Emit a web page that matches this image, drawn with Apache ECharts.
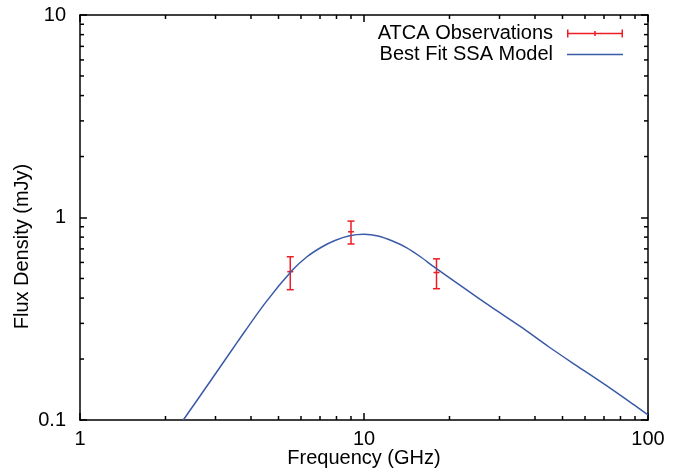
<!DOCTYPE html>
<html>
<head>
<meta charset="utf-8">
<script src="https://cdn.jsdelivr.net/npm/echarts@6/dist/echarts.min.js"></script>
<style>
  html, body { margin: 0; padding: 0; background: #fff; }
  #main { width: 685px; height: 470px; }
</style>
</head>
<body>
<div id="main"></div>
<script>
// observations (GHz, mJy, 1-sigma)
var obsFreq = [5.5, 9.0, 18.0];
var obsFlux = [0.54, 0.85, 0.535];
var obsErr = [0.10, 0.11, 0.09];

// best fit SSA model
var modelFreq = [2.31, 2.9, 3.6, 4.5, 5.6, 6.3, 7.1, 7.9, 8.9, 10, 11.2, 12.6, 14.1, 15.8, 17.8, 22.4, 28.2, 35.5, 44.7, 56.2, 70.8, 89.1, 100];
var modelFlux = [0.100, 0.158, 0.245, 0.38, 0.55, 0.64, 0.715, 0.77, 0.812, 0.826, 0.81, 0.765, 0.71, 0.64, 0.565, 0.45, 0.36, 0.29, 0.23, 0.185, 0.149, 0.119, 0.106];

// minor tick positions
var xMinor = [2, 3, 4, 5, 6, 7, 8, 9, 20, 30, 40, 50, 60, 70, 80, 90];
var yMinor = [0.2, 0.3, 0.4, 0.5, 0.6, 0.7, 0.8, 0.9, 2, 3, 4, 5, 6, 7, 8, 9];

var RED = '#ee1c25';
var BLUE = '#3a5aa8';
var FONT = '"Liberation Sans", Arial, Helvetica, sans-serif';

var chart = echarts.init(document.getElementById('main'));

var lineStyle = { color: '#000', width: 1.5 };

function baseAxis(type, pos, min, max, labels) {
    return {
        type: 'log',
        logBase: 10,
        position: pos,
        min: min,
        max: max,
        axisLine: { show: true, onZero: false, lineStyle: lineStyle },
        axisTick: { show: true, inside: true, length: 7, lineStyle: lineStyle },
        axisLabel: {
            show: labels,
            color: '#000',
            fontSize: 20,
            fontFamily: FONT,
            margin: type === 'x' ? 9 : 14,
            formatter: function (v) { return String(+v.toPrecision(3)); }
        },
        splitLine: { show: false },
        minorTick: { show: false }
    };
}

var xBottom = baseAxis('x', 'bottom', 1, 100, true);
xBottom.name = 'Frequency (GHz)';
xBottom.nameLocation = 'middle';
xBottom.nameGap = 28;
xBottom.nameMoveOverlap = false;
xBottom.nameTextStyle = { color: '#000', fontSize: 20, fontFamily: FONT };

var yLeft = baseAxis('y', 'left', 0.1, 10, true);
yLeft.name = 'Flux Density (mJy)';
yLeft.nameLocation = 'middle';
yLeft.nameGap = 48;
yLeft.nameMoveOverlap = false;
yLeft.nameTextStyle = { color: '#000', fontSize: 20, fontFamily: FONT, padding: [0, 58, 0, 0] };

var obsData = obsFreq.map(function (f, i) {
    return [f, obsFlux[i], obsFlux[i] - obsErr[i], obsFlux[i] + obsErr[i]];
});
var modelData = modelFreq.map(function (f, i) { return [f, modelFlux[i]]; });

function tickSeries(vals, dir) {
    return {
        type: 'custom',
        name: dir + 'minor',
        silent: true,
        xAxisIndex: 0,
        yAxisIndex: 0,
        clip: false,
        data: vals.map(function (v) { return dir === 'x' ? [v, 1] : [1, v]; }),
        renderItem: function (params, api) {
            var a, b, shapes;
            var L = 4;
            if (dir === 'x') {
                a = api.coord([api.value(0), 0.1]);
                b = api.coord([api.value(0), 10]);
                shapes = [[a[0], a[1], a[0], a[1] - L], [b[0], b[1], b[0], b[1] + L]];
            } else {
                a = api.coord([1, api.value(1)]);
                b = api.coord([100, api.value(1)]);
                shapes = [[a[0], a[1], a[0] + L, a[1]], [b[0], b[1], b[0] - L, b[1]]];
            }
            return {
                type: 'group',
                children: shapes.map(function (s) {
                    return {
                        type: 'line',
                        shape: { x1: s[0], y1: s[1], x2: s[2], y2: s[3] },
                        style: { stroke: '#000', lineWidth: 1.5 }
                    };
                })
            };
        }
    };
}

var option = {
    animation: false,
    backgroundColor: '#fff',
    textStyle: { fontFamily: FONT },
    grid: { left: 80, right: 37, top: 15, bottom: 50, outerBoundsMode: 'none' },
    legend: {
        orient: 'vertical',
        right: 57,
        top: 18,
        align: 'right',
        itemGap: 0,
        itemWidth: 56,
        itemHeight: 8,
        textStyle: { color: '#000', fontSize: 20, fontFamily: FONT, lineHeight: 21, padding: [0, 9, 0, 0] },
        data: [
            { name: 'ATCA Observations', icon: 'path://M0,0h1.5v8h-1.5z M54.5,0h1.5v8h-1.5z M0,3.25h56v1.5h-56z M27.25,1.5h1.5v5h-1.5z' },
            { name: 'Best Fit SSA Model', icon: 'path://M0,0h56v1.6h-56z' }
        ]
    },
    xAxis: [xBottom, baseAxis('x', 'top', 1, 100, false)],
    yAxis: [yLeft, baseAxis('y', 'right', 0.1, 10, false)],
    series: [
        tickSeries(xMinor, 'x'),
        tickSeries(yMinor, 'y'),
        {
            name: 'Best Fit SSA Model',
            type: 'line',
            data: modelData,
            smooth: 0.3,
            symbol: 'none',
            color: BLUE,
            itemStyle: { color: BLUE },
            lineStyle: { color: BLUE, width: 1.5 }
        },
        {
            name: 'ATCA Observations',
            type: 'custom',
            itemStyle: { color: RED },
            data: obsData,
            encode: { x: 0, y: [1, 2, 3] },
            renderItem: function (params, api) {
                var c = api.coord([api.value(0), api.value(1)]);
                var lo = api.coord([api.value(0), api.value(2)]);
                var hi = api.coord([api.value(0), api.value(3)]);
                var w = 3.5;
                var segs = [
                    [c[0], lo[1], c[0], hi[1]],
                    [c[0] - w, lo[1], c[0] + w, lo[1]],
                    [c[0] - w, hi[1], c[0] + w, hi[1]],
                    [c[0] - 3, c[1], c[0] + 3, c[1]]
                ];
                return {
                    type: 'group',
                    children: segs.map(function (s) {
                        return {
                            type: 'line',
                            shape: { x1: s[0], y1: s[1], x2: s[2], y2: s[3] },
                            style: { stroke: RED, lineWidth: 1.5 }
                        };
                    })
                };
            }
        }
    ]
};

chart.setOption(option);
</script>
</body>
</html>
